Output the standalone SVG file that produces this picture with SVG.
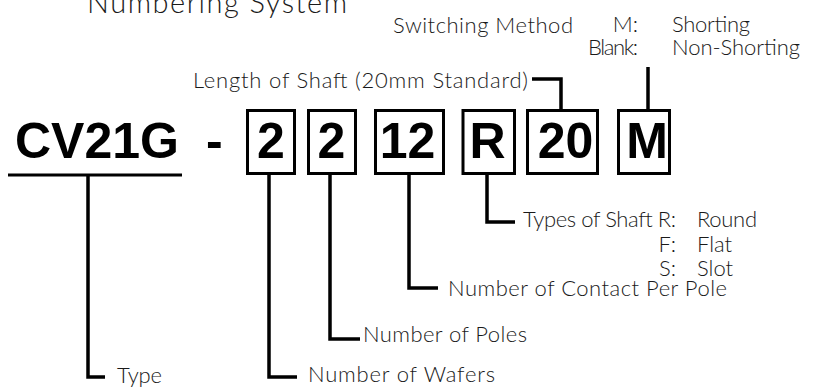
<svg xmlns="http://www.w3.org/2000/svg" width="820" height="392" viewBox="0 0 820 392">
<style>
.lbl{font-family:Lato,"Open Sans","Liberation Sans",sans-serif;font-weight:300;font-size:22px;fill:#1a1a1a}
.title{font-family:Lato,"Open Sans","Liberation Sans",sans-serif;font-weight:300;font-size:29px;fill:#1a1a1a}
.code{font-family:"Liberation Sans",Arial,sans-serif;font-weight:bold;font-size:50px;fill:#000}
.mid{text-anchor:middle}
.end{text-anchor:end}
.box{fill:#fff;stroke:#000;stroke-width:3}
.conn{fill:none;stroke:#000;stroke-width:3.5;stroke-linejoin:miter;stroke-linecap:butt}
</style>
<rect width="820" height="392" fill="#fff"/>
<text class="title" x="87" y="13" textLength="260">Numbering System</text>

<g id="connectors">
<path class="conn" d="M88,175 V377 H105"/>
<path class="conn" d="M269,175 V377 H297"/>
<path class="conn" d="M330,175 V339 H360"/>
<path class="conn" d="M409,175 V288 H438"/>
<path class="conn" d="M487,175 V222 H515"/>
<path class="conn" d="M532,79 H561 V109"/>
<path class="conn" d="M648,67 V109"/>
</g>

<g id="code-type">
<text class="code" x="15" y="158">CV21G</text>
<line x1="8" y1="175" x2="182" y2="175" stroke="#000" stroke-width="3"/>
</g>
<g id="dash"><text class="code" x="206" y="158">-</text></g>
<g id="box-wafers"><rect class="box" x="247.5" y="110.5" width="47" height="63"/><text class="code mid" x="271" y="158">2</text></g>
<g id="box-poles"><rect class="box" x="308.5" y="110.5" width="47" height="63"/><text class="code mid" x="331.5" y="158">2</text></g>
<g id="box-contacts"><rect class="box" x="375.5" y="110.5" width="68" height="63"/><text class="code mid" x="407.5" y="158">12</text></g>
<g id="box-shafttype"><rect class="box" x="463" y="110.5" width="51.5" height="63"/><text class="code mid" x="487.5" y="158">R</text></g>
<g id="box-length"><rect class="box" x="527.5" y="110.5" width="70" height="63"/><text class="code mid" x="565.5" y="158">20</text></g>
<g id="box-switching"><rect class="box" x="618.5" y="110.5" width="51" height="63"/><text class="code mid" x="647" y="158">M</text></g>

<g id="label-type"><text class="lbl" x="117" y="383" textLength="45">Type</text></g>
<g id="label-wafers"><text class="lbl" x="308" y="382" textLength="187">Number of Wafers</text></g>
<g id="label-poles"><text class="lbl" x="363" y="342" textLength="164">Number of Poles</text></g>
<g id="label-contacts"><text class="lbl" x="448" y="296" textLength="279">Number of Contact Per Pole</text></g>
<g id="label-shafttype">
<text class="lbl" x="523" y="227" textLength="153">Types of Shaft R:</text>
<text class="lbl" x="697" y="227" textLength="60">Round</text>
<text class="lbl end" x="676" y="252">F:</text>
<text class="lbl" x="697" y="252" textLength="35">Flat</text>
<text class="lbl end" x="676" y="276">S:</text>
<text class="lbl" x="697" y="276" textLength="36">Slot</text>
</g>
<g id="label-length"><text class="lbl" x="193" y="88" textLength="335">Length of Shaft (20mm Standard)</text></g>
<g id="label-switching">
<text class="lbl" x="393" y="33" textLength="180">Switching Method</text>
<text class="lbl end" x="638" y="32">M:</text>
<text class="lbl" x="672" y="32" textLength="78">Shorting</text>
<text class="lbl" x="588" y="55" textLength="50">Blank:</text>
<text class="lbl" x="672" y="55" textLength="128">Non-Shorting</text>
</g>
</svg>
